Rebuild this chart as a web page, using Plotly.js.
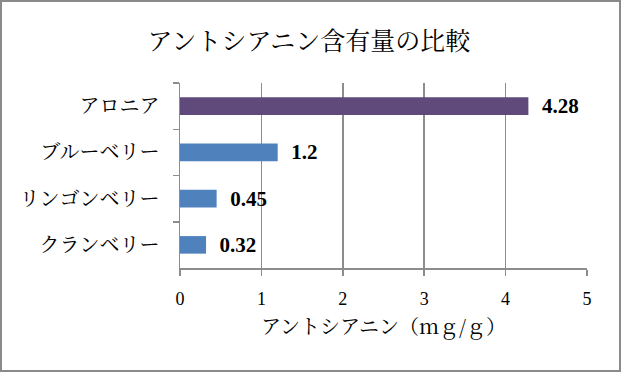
<!DOCTYPE html>
<html><head><meta charset="utf-8">
<script src="https://cdn.plot.ly/plotly-3.0.1.min.js"></script>
<style>
html,body{margin:0;padding:0;background:#fff;}
#wrap{position:absolute;left:0;top:0;width:621px;height:372px;box-sizing:border-box;border:2px solid #8a8a8a;background:#fff;}
#chart{width:617px;height:368px;}
</style></head>
<body><div id="wrap"><div id="chart"></div></div>
<script>
const categories = ["アロニア", "ブルーベリー", "リンゴンベリー", "クランベリー"];
const values = [4.28, 1.2, 0.45, 0.32];
const barColors = ["#604a7b", "#4f81bd", "#4f81bd", "#4f81bd"];
const xTicks = [0, 1, 2, 3, 4, 5];
const titleText = "アントシアニン含有量の比較";
const xTitleText = "アントシアニン（ｍｇ/ｇ）";

const NUMFONT = "'Liberation Serif', 'DejaVu Serif', serif";
const JPFONT = "'Noto Serif CJK JP', 'Noto Sans CJK JP', sans-serif";

Plotly.newPlot('chart', [{
  type: 'bar',
  orientation: 'h',
  y: categories,
  x: values,
  marker: {color: barColors},
  texttemplate: '\u00a0\u00a0%{x}',
  textposition: 'outside',
  constraintext: 'none',
  cliponaxis: false,
  textfont: {family: NUMFONT, size: 21, color: '#000', weight: 'bold'},
  width: 0.38
}], {
  width: 617, height: 368,
  margin: {l: 178, r: 32, t: 81, b: 102},
  paper_bgcolor: '#fff', plot_bgcolor: '#fff',
  showlegend: false,
  font: {family: JPFONT, color: '#000', size: 15},
  title: {text: titleText, font: {family: JPFONT, size: 25, color: '#000'}, x: 307/617, xanchor: 'center', xref: 'container', y: 1 - 39/368, yanchor: 'middle', yref: 'container'},
  xaxis: {
    range: [0, 5], tickvals: xTicks, ticktext: xTicks.map(String),
    showgrid: true, gridcolor: '#8c8c8c', gridwidth: 1.5,
    showline: true, linecolor: '#8c8c8c', linewidth: 1.5,
    ticks: 'outside', ticklen: 6, tickcolor: '#8c8c8c', tickwidth: 1.5,
    ticklabelstandoff: 8,
    tickfont: {family: NUMFONT, size: 18, color: '#000'},
    zeroline: false, fixedrange: true,
    title: {text: xTitleText, font: {family: JPFONT, size: 20, color: '#000'}, standoff: 12}
  },
  yaxis: {
    autorange: 'reversed', type: 'category',
    showline: true, linecolor: '#8c8c8c', linewidth: 1.5,
    ticks: 'outside', ticklen: 6, tickcolor: '#8c8c8c', tickwidth: 1.5,
    tickson: 'boundaries',
    ticklabelstandoff: 15,
    showgrid: false, zeroline: false, fixedrange: true,
    tickfont: {family: JPFONT, size: 20, color: '#000'}
  }
}, {displayModeBar: false, staticPlot: true});
</script></body></html>
